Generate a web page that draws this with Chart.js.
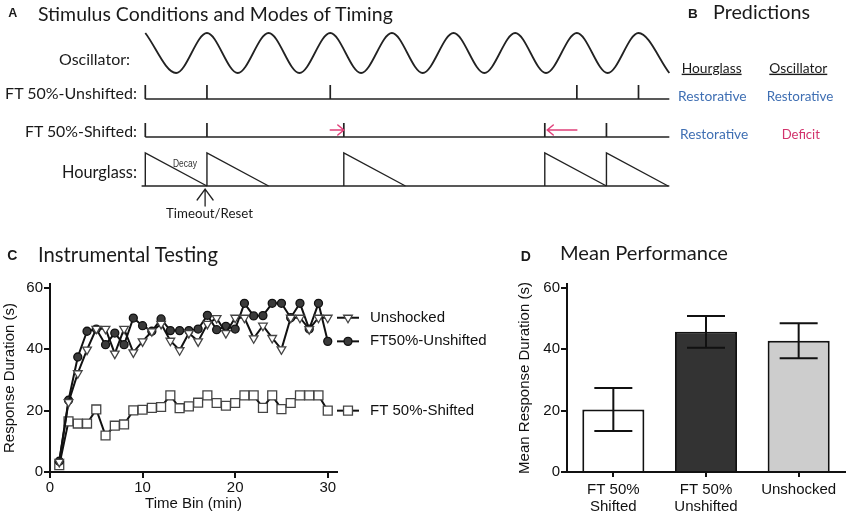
<!DOCTYPE html>
<html><head><meta charset="utf-8">
<script src="https://cdn.jsdelivr.net/npm/chart.js@4.4.1/dist/chart.umd.min.js"></script>
<style>
html,body{margin:0;padding:0;background:#fff;width:850px;height:517px;overflow:hidden}
canvas{position:absolute}
#txt{position:absolute;left:0;top:0}
</style></head><body>
<canvas id="cA" width="850" height="230" style="left:0;top:0;width:850px;height:230px"></canvas>
<canvas id="cC" width="490" height="247" style="left:0;top:270px;width:490px;height:247px"></canvas>
<canvas id="cD" width="360" height="247" style="left:490px;top:270px;width:360px;height:247px"></canvas>
<svg id="txt" width="850" height="517" xmlns="http://www.w3.org/2000/svg"></svg>
<script>
// ---------- Panel A data (time in oscillator periods) ----------
const oscT = [0,0.5,1,1.5,2,2.5,3,3.5,4,4.5,5,5.5,6,6.5,7,7.5,8,8.5];
const oscLevel = [1,0,1,0,1,0,1,0,1,0,1,0,1,0,1,0,1,0];
const unshiftedTicks = [0,1,3,7,8];
const shiftedTicks = [0,1,3.22,6.48,7.48];
const hourglassResets = [0,1,3.22,6.48,7.48];
const shiftArrows = [[3,3.22],[7,6.52]];
const timeoutAt = 0.97;
const timelineEnd = 8.5;

// ---------- Panel C data ----------
const timeBins = [1,2,3,4,5,6,7,8,9,10,11,12,13,14,15,16,17,18,19,20,21,22,23,24,25,26,27,28,29,30];
const unshocked = [3.3,22.8,32.2,39.9,46.7,46.7,38.6,46.7,39.0,42.6,45.9,48.3,42.8,39.7,45.3,42.6,48.3,50.2,45.3,50.3,50.3,43.6,47.7,43.7,40.0,50.3,50.3,46.6,50.3,50.3];
const ft50Unshifted = [3.5,23.4,37.5,45.9,46.6,41.5,45.3,41.5,50.2,47.7,45.9,49.9,46.1,46.1,46.1,46.6,51.1,46.4,47.5,46.6,55.0,50.9,51.0,55.0,55.0,50.3,55.0,46.6,55.0,42.6];
const ft50Shifted = [2.2,16.5,15.8,15.8,20.4,11.9,15.1,15.5,20.1,20.3,20.9,21.2,25.0,20.8,21.4,22.6,25.0,22.5,21.6,22.5,25.0,25.0,20.9,25.0,20.5,22.5,25.0,25.0,25.0,20.0];
const xTicksC = [0,10,20,30];
const yTicks = [0,20,40,60];

// ---------- Panel D data ----------
const groupLabels = [['FT 50%','Shifted'],['FT 50%','Unshifted'],'Unshocked'];
const groupMeans = [20.4,45.7,42.8];
const groupErrors = [7.0,5.2,5.7];

// ---------- layout constants ----------
const X0 = 145.3, PX = 61.65;
const ROW = {oscTop:33, oscBot:73, unBase:99, unTop:85, shBase:137, shTop:123, hgBase:186, hgTop:153, arrowY:130};
const INK = '#222', PINK = '#e0407a', BLUE = '#3f6fb3';
const FONT = 'Liberation Sans, Arial, sans-serif';

function tickSegs(ticks, base, top){
  const d = [];
  ticks.forEach(t => { d.push({x:t,y:base},{x:t,y:top},{x:t,y:null}); });
  return d;
}
function lineDs(data, extra){
  return Object.assign({data, borderColor:INK, borderWidth:1.7, pointRadius:0, fill:false, clip:false}, extra||{});
}

const arrowPlugin = {
  id:'arrowsA',
  afterDatasetsDraw(chart){
    const {ctx, scales:{x, y}} = chart;
    ctx.save();
    ctx.strokeStyle = PINK; ctx.lineWidth = 1.5; ctx.lineCap='round';
    const ay = y.getPixelForValue(ROW.arrowY);
    shiftArrows.forEach(([a,b]) => {
      const x1 = x.getPixelForValue(a), x2 = x.getPixelForValue(b);
      const dir = Math.sign(x2 - x1);
      ctx.beginPath(); ctx.moveTo(x1, ay); ctx.lineTo(x2, ay);
      ctx.moveTo(x2 - dir*6, ay - 5); ctx.lineTo(x2, ay); ctx.lineTo(x2 - dir*6, ay + 5);
      ctx.stroke();
    });
    // Timeout/Reset arrow
    ctx.strokeStyle = INK; ctx.lineWidth = 1.3;
    const tx = x.getPixelForValue(timeoutAt);
    const tip = y.getPixelForValue(ROW.hgBase + 3), tail = y.getPixelForValue(ROW.hgBase + 20);
    ctx.beginPath(); ctx.moveTo(tx, tail); ctx.lineTo(tx, tip);
    ctx.moveTo(tx - 8, tip + 11); ctx.lineTo(tx, tip); ctx.lineTo(tx + 8, tip + 11);
    ctx.stroke();
    ctx.restore();
  }
};

const hgData = [];
hourglassResets.forEach(r => { hgData.push({x:r,y:ROW.hgBase},{x:r,y:ROW.hgTop},{x:r+1,y:ROW.hgBase},{x:r+1,y:null}); });

new Chart(document.getElementById('cA'), {
  type:'line',
  data:{datasets:[
    lineDs(oscT.map((t,i)=>({x:t, y: oscLevel[i] ? ROW.oscTop : ROW.oscBot})), {cubicInterpolationMode:'monotone', borderWidth:1.8}),
    lineDs([{x:0,y:ROW.unBase},{x:timelineEnd,y:ROW.unBase}]),
    lineDs(tickSegs(unshiftedTicks, ROW.unBase, ROW.unTop)),
    lineDs([{x:0,y:ROW.shBase},{x:timelineEnd,y:ROW.shBase}]),
    lineDs(tickSegs(shiftedTicks, ROW.shBase, ROW.shTop)),
    lineDs([{x:-0.06,y:ROW.hgBase},{x:timelineEnd,y:ROW.hgBase}]),
    lineDs(hgData, {borderWidth:1.4})
  ]},
  options:{
    responsive:false, animation:false, spanGaps:false,
    layout:{padding:0},
    plugins:{legend:{display:false}, tooltip:{enabled:false}},
    scales:{
      x:{type:'linear', display:false, min:-X0/PX, max:(850-X0)/PX},
      y:{type:'linear', display:false, min:0, max:230, reverse:true}
    }
  },
  plugins:[arrowPlugin]
});

// ---------- Panel C ----------
const seriesStyles = [
  {label:'Unshocked', pointStyle:'triangle', rotation:180, pointRadius:5, pointBackgroundColor:'#fff', pointBorderColor:'#444', pointBorderWidth:1.3},
  {label:'FT50%-Unshifted', pointStyle:'circle', rotation:0, pointRadius:4, pointBackgroundColor:'#3a3a3a', pointBorderColor:'#111', pointBorderWidth:1.3},
  {label:'FT 50%-Shifted', pointStyle:'rect', rotation:0, pointRadius:6.3, pointBackgroundColor:'#fff', pointBorderColor:'#444', pointBorderWidth:1.3}
];
const seriesValues = [unshocked, ft50Unshifted, ft50Shifted];

const legendPlugin = {
  id:'sideLegend',
  afterDatasetsDraw(chart){
    const {ctx, chartArea, scales:{y}} = chart;
    chart.data.datasets.forEach((ds) => {
      const last = ds.data[ds.data.length-1].y;
      const py = y.getPixelForValue(last);
      const x0 = chartArea.right;
      ctx.save();
      ctx.strokeStyle = '#111'; ctx.lineWidth = 2;
      ctx.beginPath(); ctx.moveTo(x0, py); ctx.lineTo(x0 + 22, py); ctx.stroke();
      ctx.fillStyle = ds.pointBackgroundColor; ctx.strokeStyle = ds.pointBorderColor; ctx.lineWidth = ds.pointBorderWidth;
      Chart.helpers.drawPoint(ctx, {pointStyle: ds.pointStyle, rotation: ds.rotation, radius: ds.pointRadius, borderWidth: ds.pointBorderWidth}, x0 + 11, py);
      ctx.fillStyle = '#111'; ctx.font = '15px ' + FONT; ctx.textBaseline = 'middle'; ctx.textAlign = 'left';
      ctx.fillText(ds.label, x0 + 33, py);
      ctx.restore();
    });
  }
};

const axisCommon = (extra) => Object.assign({
  border:{color:'#111', width:2},
  grid:{display:true, drawOnChartArea:false, drawTicks:true, tickLength:6, color:'#111', lineWidth:2},
  ticks:{font:{family:FONT, size:15}, color:'#111', padding:1, maxRotation:0, autoSkip:false}
}, extra);

new Chart(document.getElementById('cC'), {
  type:'line',
  data:{datasets: seriesStyles.map((s,k) => Object.assign({
    data: timeBins.map((t,i)=>({x:t, y:seriesValues[k][i]})),
    borderColor:'#111', borderWidth:2, fill:false, clip:false
  }, s))},
  options:{
    responsive:false, animation:false,
    layout:{padding:{top:14, right:153, left:0, bottom:0}},
    plugins:{legend:{display:false}, tooltip:{enabled:false}},
    scales:{
      x: axisCommon({type:'linear', min:0, max:31,
        afterBuildTicks: s => { s.ticks = xTicksC.map(v=>({value:v})); },
        afterFit: s => { s.height = 45; },
        title:{display:true, text:'Time Bin (min)', color:'#111', font:{family:FONT, size:15}, padding:{top:0, bottom:4}}
      }),
      y: axisCommon({type:'linear', min:0, max:61.3,
        afterBuildTicks: s => { s.ticks = yTicks.map(v=>({value:v})); },
        afterFit: s => { s.width = 50; },
        title:{display:true, text:'Response Duration (s)', color:'#111', font:{family:FONT, size:15}, padding:{top:1, bottom:0}}
      })
    }
  },
  plugins:[legendPlugin]
});

// ---------- Panel D ----------
const errorPlugin = {
  id:'errorBars',
  afterDatasetsDraw(chart){
    const {ctx, scales:{y}} = chart;
    const meta = chart.getDatasetMeta(0);
    ctx.save(); ctx.strokeStyle = '#111'; ctx.lineWidth = 2;
    meta.data.forEach((bar, i) => {
      const yt = y.getPixelForValue(groupMeans[i] + groupErrors[i]);
      const yb = y.getPixelForValue(groupMeans[i] - groupErrors[i]);
      ctx.beginPath();
      ctx.moveTo(bar.x, yt); ctx.lineTo(bar.x, yb);
      ctx.moveTo(bar.x - 19, yt); ctx.lineTo(bar.x + 19, yt);
      ctx.moveTo(bar.x - 19, yb); ctx.lineTo(bar.x + 19, yb);
      ctx.stroke();
    });
    ctx.restore();
  }
};

new Chart(document.getElementById('cD'), {
  type:'bar',
  data:{labels: groupLabels, datasets:[{
    data: groupMeans,
    backgroundColor:['#ffffff','#333333','#cdcdcd'],
    borderColor:'#111', borderWidth:2, borderSkipped:'start',
    categoryPercentage:1, barPercentage:0.67
  }]},
  options:{
    responsive:false, animation:false,
    layout:{padding:{top:14, right:5, left:26, bottom:0}},
    plugins:{legend:{display:false}, tooltip:{enabled:false}},
    scales:{
      x: axisCommon({type:'category',
        grid:{display:true, drawOnChartArea:false, drawTicks:true, tickLength:5, color:'#111', lineWidth:2, offset:false},
        ticks:{font:{family:FONT, size:15, lineHeight:1.133}, color:'#111', padding:4.5, maxRotation:0, autoSkip:false},
        afterFit: s => { s.height = 45; }
      }),
      y: axisCommon({type:'linear', min:0, max:61.3,
        afterBuildTicks: s => { s.ticks = yTicks.map(v=>({value:v})); },
        afterFit: s => { s.width = 51; },
        title:{display:true, text:'Mean Response Duration (s)', color:'#111', font:{family:FONT, size:15}, padding:{top:0, bottom:0}}
      })
    }
  },
  plugins:[errorPlugin]
});

// ---------- Text (real SVG text) ----------
const texts = [
  {t:'A', x:8.3, y:17.3, s:12.5, b:1, f:FONT},
  {t:'Stimulus Conditions and Modes of Timing', x:38, y:20.7, w:355},
  {t:'B', x:688, y:18.3, s:13.5, b:1, f:FONT},
  {t:'Predictions', x:713, y:19.3, w:97},
  {t:'Oscillator:', x:130, y:65, w:71, a:'end'},
  {t:'FT 50%-Unshifted:', x:137, y:99, w:132, a:'end'},
  {t:'FT 50%-Shifted:', x:137, y:137, w:112, a:'end'},
  {t:'Hourglass:', x:137, y:178.3, w:75, a:'end'},
  {t:'Decay', x:173, y:167, s:11.5, len:24, f:FONT, c:'#333'},
  {t:'Timeout/Reset', x:166, y:217.5, w:87},
  {t:'Hourglass', x:681.7, y:72.7, w:60, u:1},
  {t:'Oscillator', x:769.3, y:72.7, w:58, u:1},
  {t:'Restorative', x:678, y:100.7, w:68.7, c:BLUE},
  {t:'Restorative', x:766.7, y:100.7, w:66.7, c:BLUE},
  {t:'Restorative', x:680, y:138.7, w:68.3, c:BLUE},
  {t:'Deficit', x:781.7, y:138.7, w:38.3, c:'#d2336c'},
  {t:'C', x:7.3, y:260, s:14, b:1, f:FONT},
  {t:'Instrumental Testing', x:38, y:262.3, w:180},
  {t:'D', x:520.7, y:260.7, s:14, b:1, f:FONT},
  {t:'Mean Performance', x:560, y:260, w:168}
];
const svg = document.getElementById('txt');
const NS = 'http://www.w3.org/2000/svg';
texts.forEach(d => {
  const el = document.createElementNS(NS, 'text');
  el.textContent = d.t;
  el.setAttribute('x', d.x); el.setAttribute('y', d.y);
  el.setAttribute('font-family', d.f || 'Lato, sans-serif');
  el.setAttribute('fill', d.c || '#1a1a1a');
  if (d.b) el.setAttribute('font-weight', 'bold');
  if (d.a) el.setAttribute('text-anchor', d.a);
  if (d.u) el.setAttribute('text-decoration', 'underline');
  if (d.len) { el.setAttribute('textLength', d.len); el.setAttribute('lengthAdjust', 'spacingAndGlyphs'); }
  svg.appendChild(el);
  if (d.w) {
    el.setAttribute('font-size', 100);
    const L = el.getComputedTextLength();
    el.setAttribute('font-size', (100 * d.w / L).toFixed(2));
  } else {
    el.setAttribute('font-size', d.s);
  }
});
</script>
</body></html>
